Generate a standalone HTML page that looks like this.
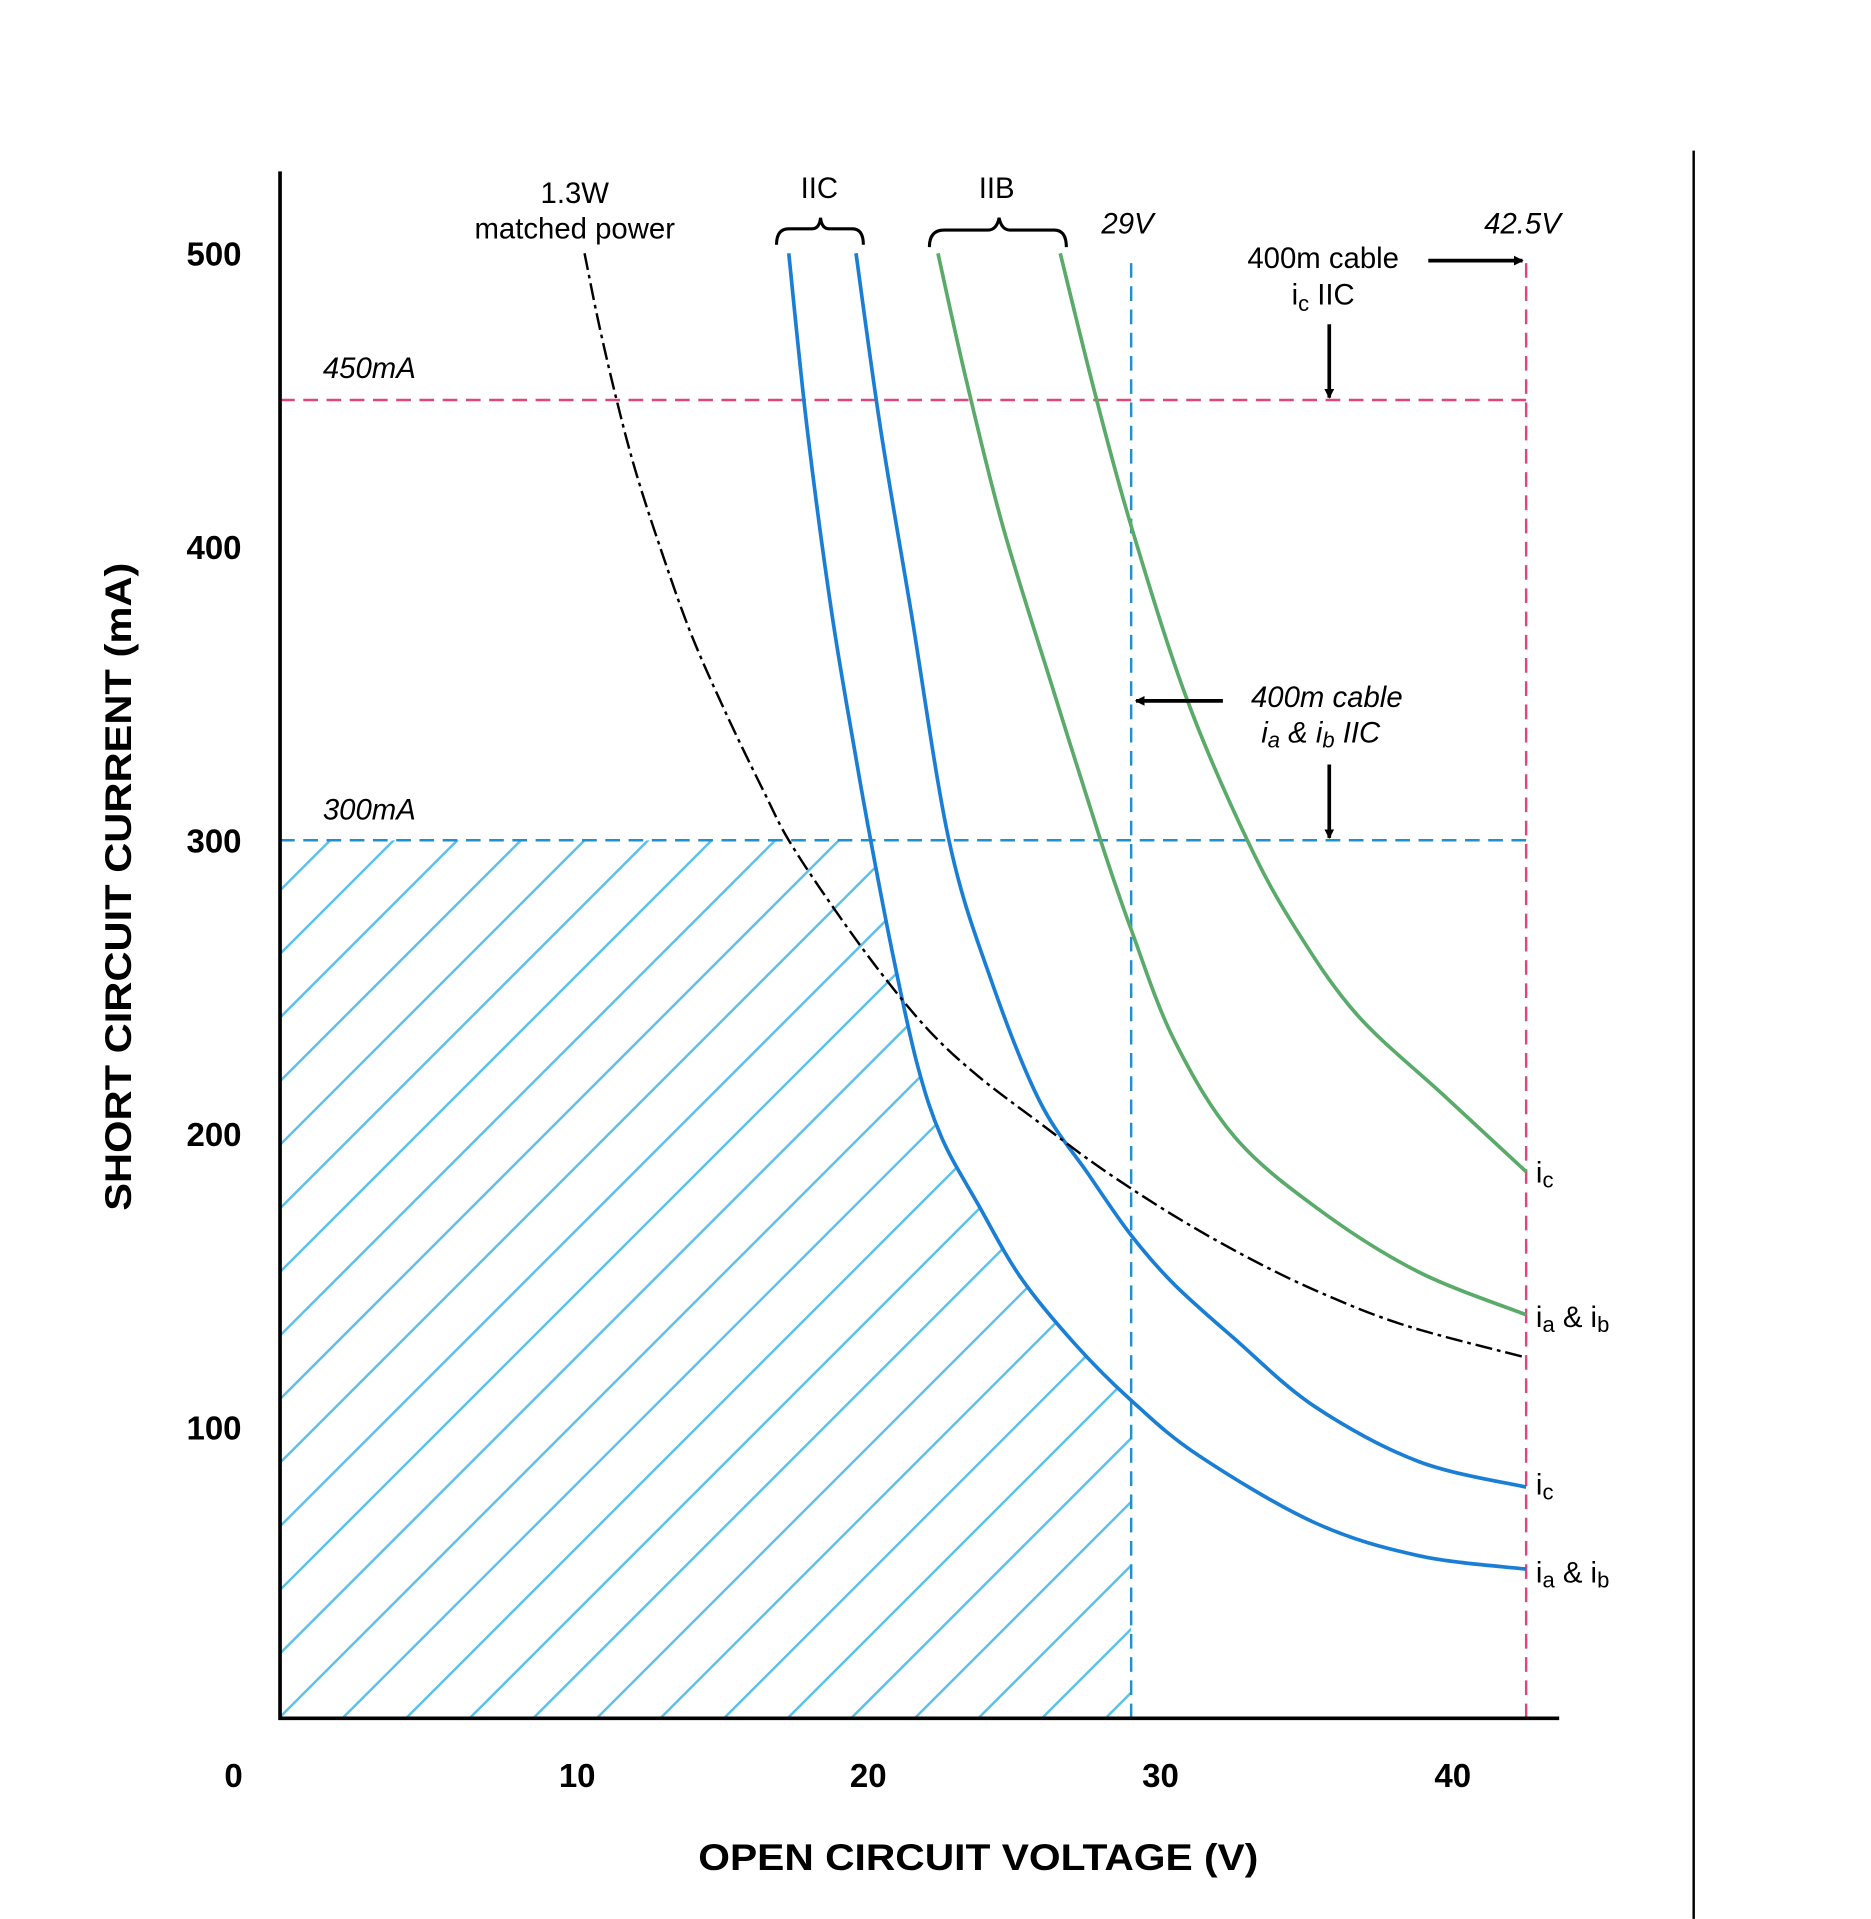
<!DOCTYPE html>
<html><head><meta charset="utf-8"><style>html,body{margin:0;padding:0;background:#fff}svg{display:block}</style></head>
<body>
<svg width="1871" height="1919" viewBox="0 0 1530 1569" xmlns="http://www.w3.org/2000/svg" font-family="Liberation Sans, sans-serif">
<rect width="1530" height="1569" fill="#fff"/>
<defs>
<clipPath id="hc"><path id="cp" d="M229,687 L712,687 L730,780 L750,870 L770,930 L800,985 L835,1045 L880,1100 L925,1145 L925,1405 L229,1405 Z"/></clipPath>
<marker id="ah" markerWidth="8" markerHeight="8" refX="7" refY="4" orient="auto" markerUnits="userSpaceOnUse"><path d="M0,0 L8,4 L0,8 Z" fill="#000"/></marker>
</defs>
<g clip-path="url(#hc)" stroke="#5bc0eb" stroke-width="2">
<path d="M-500,1405 l800,-800 M-448,1405 l800,-800 M-396,1405 l800,-800 M-344,1405 l800,-800 M-292,1405 l800,-800 M-240,1405 l800,-800 M-188,1405 l800,-800 M-136,1405 l800,-800 M-84,1405 l800,-800 M-32,1405 l800,-800 M20,1405 l800,-800 M72,1405 l800,-800 M124,1405 l800,-800 M176,1405 l800,-800 M228,1405 l800,-800 M280,1405 l800,-800 M332,1405 l800,-800 M384,1405 l800,-800 M436,1405 l800,-800 M488,1405 l800,-800 M540,1405 l800,-800 M592,1405 l800,-800 M644,1405 l800,-800 M696,1405 l800,-800 M748,1405 l800,-800 M800,1405 l800,-800 M852,1405 l800,-800 M904,1405 l800,-800"/>
</g>
<g fill="none" stroke-width="2" stroke-dasharray="12,7">
<path d="M229,327 H1248 M1248,215 V1405" stroke="#e0457b"/>
<path d="M229,687 H1248 M925,215 V1405" stroke="#1e90d0"/>
</g>
<path d="M229,140 V1405 H1275" fill="none" stroke="#000" stroke-width="3"/>
<path d="M1385,123 V1569" stroke="#000" stroke-width="2"/>
<g fill="none" stroke-width="3">
<polyline class="sm" stroke="#1a7fd4" points="645,207 660,350 680,500 700,620 712,687 730,780 750,870 770,930 800,985 835,1045 880,1100 925,1145 980,1190 1075,1245 1160,1272 1248,1283"/>
<polyline class="sm" stroke="#1a7fd4" points="700,207 720,350 745,500 776,687 810,800 850,900 890,960 925,1010 960,1050 1010,1095 1075,1150 1160,1195 1248,1216"/>
<polyline class="sm" stroke="#5aaa6a" points="767,207 790,310 820,430 860,560 900,687 925,760 960,850 1010,930 1080,990 1160,1040 1248,1075"/>
<polyline class="sm" stroke="#5aaa6a" points="867,207 895,320 925,430 970,570 1020,687 1060,760 1110,830 1180,895 1248,958"/>
<polyline class="sm" stroke="#000" stroke-width="2" stroke-dasharray="14,4,3,4" points="478,207 490,266 505,330 520,386 540,448 565,518 595,586 625,648 645,687 680,740 720,795 760,843 800,880 850,918 900,955 960,994 1020,1028 1080,1057 1150,1084 1248,1110"/>
</g>
<g fill="none" stroke="#000" stroke-width="2.5">
<path d="M635,200 Q635,187 645,187 L664,187 Q670,187 671,178 Q672,187 678,187 L697,187 Q706,187 706,200"/>
<path d="M760,202 Q760,188 772,188 L808,188 Q815,188 817,178 Q819,188 826,188 L862,188 Q872,188 872,202"/>
</g>
<g stroke="#000" stroke-width="3" marker-end="url(#ah)">
<line x1="1168" y1="213" x2="1245" y2="213"/>
<line x1="1087" y1="265" x2="1087" y2="325"/>
<line x1="1000" y1="573" x2="929" y2="573"/>
<line x1="1087" y1="625" x2="1087" y2="685"/>
</g>
<g font-size="24" fill="#000" text-anchor="middle">
<text x="470" y="166">1.3W</text>
<text x="470" y="195">matched power</text>
<text x="670" y="162">IIC</text>
<text x="815" y="162">IIB</text>
<text x="922" y="191" font-style="italic">29V</text>
<text x="1245" y="191" font-style="italic">42.5V</text>
<text x="1082" y="219">400m cable</text>
<text x="1082" y="249">i<tspan font-size="18" dy="5">c</tspan><tspan dy="-5"> IIC</tspan></text>
<text x="1085" y="578" font-style="italic">400m cable</text>
<text x="1080" y="607" font-style="italic">i<tspan font-size="18" dy="4">a</tspan><tspan dy="-4"> &amp; i</tspan><tspan font-size="18" dy="4">b</tspan><tspan dy="-4"> IIC</tspan></text>
<text x="302" y="309" font-style="italic">450mA</text>
<text x="302" y="670" font-style="italic">300mA</text>
</g>
<g font-size="24" fill="#000">
<text x="1256" y="967">i<tspan font-size="18" dy="4">c</tspan></text>
<text x="1256" y="1085">i<tspan font-size="18" dy="4">a</tspan><tspan dy="-4"> &amp; i</tspan><tspan font-size="18" dy="4">b</tspan></text>
<text x="1256" y="1222">i<tspan font-size="18" dy="4">c</tspan></text>
<text x="1256" y="1294">i<tspan font-size="18" dy="4">a</tspan><tspan dy="-4"> &amp; i</tspan><tspan font-size="18" dy="4">b</tspan></text>
</g>
<g font-size="27" font-weight="bold" fill="#000" text-anchor="middle">
<text x="175" y="217">500</text>
<text x="175" y="457">400</text>
<text x="175" y="697">300</text>
<text x="175" y="937">200</text>
<text x="175" y="1177">100</text>
<text x="191" y="1461">0</text>
<text x="472" y="1461">10</text>
<text x="710" y="1461">20</text>
<text x="949" y="1461">30</text>
<text x="1188" y="1461">40</text>
<text x="800" y="1529" font-size="30" textLength="458" lengthAdjust="spacingAndGlyphs">OPEN CIRCUIT VOLTAGE (V)</text>
<text transform="translate(107,725) rotate(-90)" font-size="30" textLength="530" lengthAdjust="spacingAndGlyphs">SHORT CIRCUIT CURRENT  (mA)</text>
</g>
</svg>
<script>
document.querySelectorAll('polyline.sm').forEach(function(pl){
  var p=pl.getAttribute('points').trim().split(/\s+/).map(function(s){return s.split(',').map(Number);});
  var d='M'+p[0][0]+','+p[0][1];
  for(var i=0;i<p.length-1;i++){
    var p0=p[i-1]||p[i],p1=p[i],p2=p[i+1],p3=p[i+2]||p2;
    var c1x=p1[0]+(p2[0]-p0[0])/6,c1y=p1[1]+(p2[1]-p0[1])/6;
    var c2x=p2[0]-(p3[0]-p1[0])/6,c2y=p2[1]-(p3[1]-p1[1])/6;
    d+=' C'+c1x+','+c1y+' '+c2x+','+c2y+' '+p2[0]+','+p2[1];
  }
  var path=document.createElementNS('http://www.w3.org/2000/svg','path');
  ['stroke','stroke-width','stroke-dasharray'].forEach(function(a){if(pl.getAttribute(a))path.setAttribute(a,pl.getAttribute(a));});
  path.setAttribute('d',d);path.setAttribute('fill','none');
  pl.parentNode.replaceChild(path,pl);
});
</script>
</body></html>
